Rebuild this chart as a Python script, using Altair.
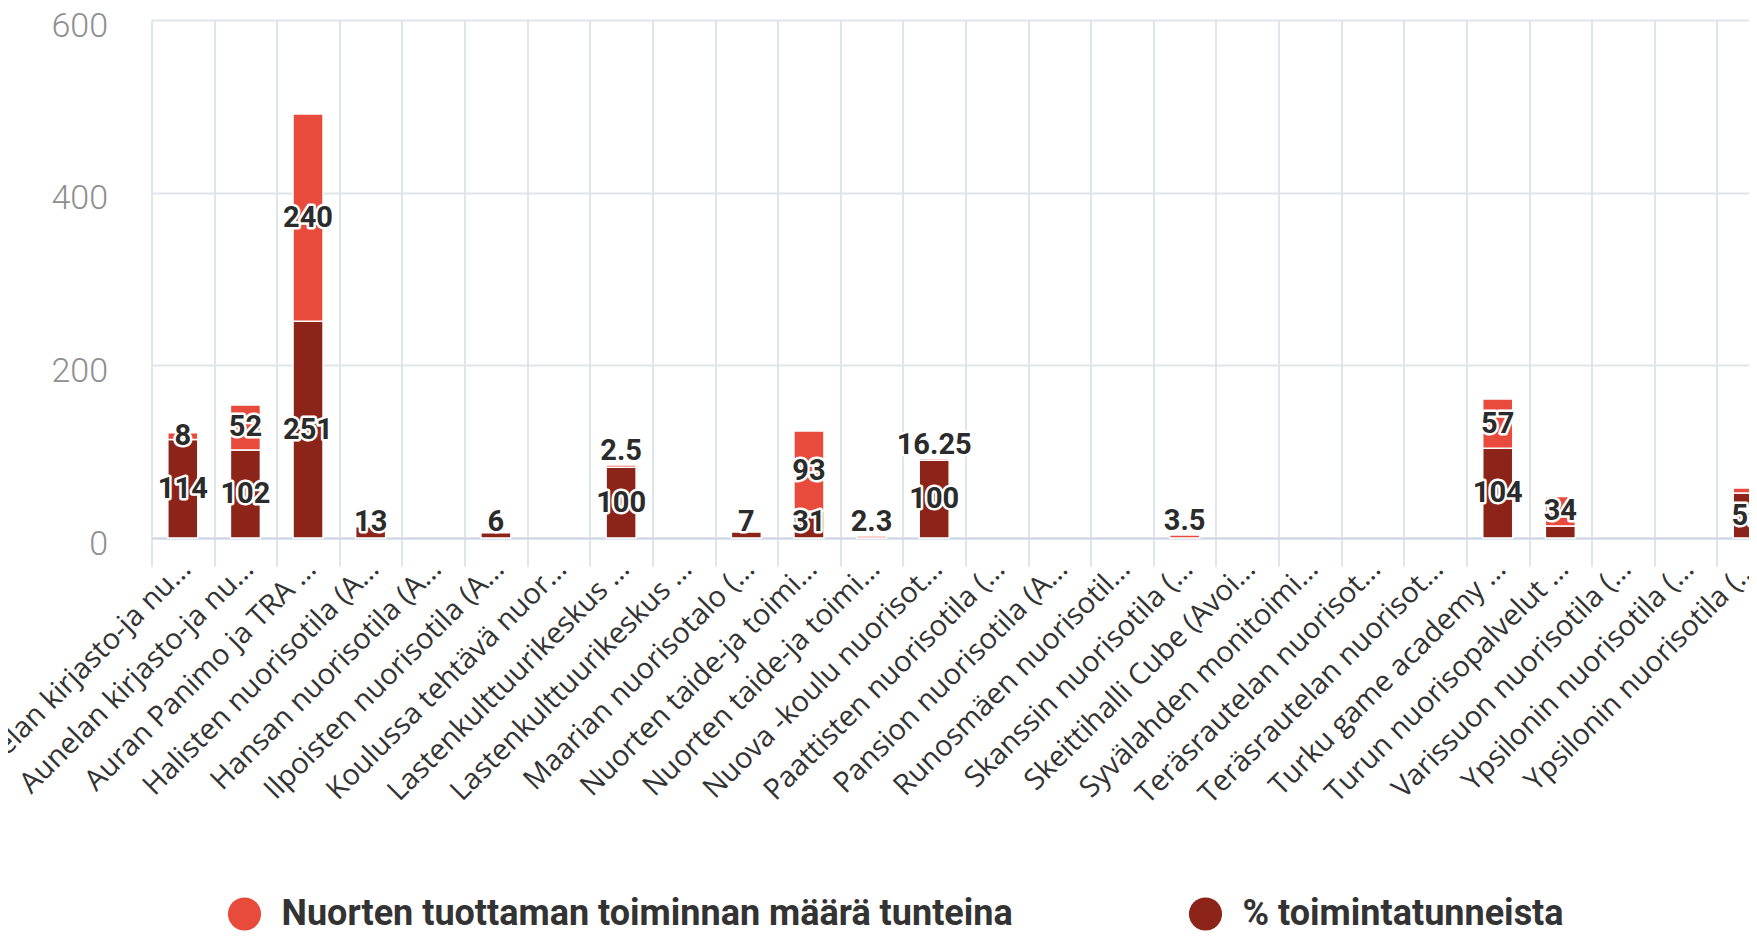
import json
import altair as alt
import pandas as pd

# ---- data ----
categories = [
    "Aunelan kirjasto-ja nu…",
    "Aunelan kirjasto-ja nu…",
    "Auran Panimo ja TRA …",
    "Halisten nuorisotila (A…",
    "Hansan nuorisotila (A…",
    "Ilpoisten nuorisotila (A…",
    "Koulussa tehtävä nuor…",
    "Lastenkulttuurikeskus …",
    "Lastenkulttuurikeskus …",
    "Maarian nuorisotalo (…",
    "Nuorten taide-ja toimi…",
    "Nuorten taide-ja toimi…",
    "Nuova -koulu nuorisot…",
    "Paattisten nuorisotila (…",
    "Pansion nuorisotila (A…",
    "Runosmäen nuorisotil…",
    "Skanssin nuorisotila (…",
    "Skeittihalli Cube (Avoi…",
    "Syvälahden monitoimi…",
    "Teräsrautelan nuorisot…",
    "Teräsrautelan nuorisot…",
    "Turku game academy …",
    "Turun nuorisopalvelut …",
    "Varissuon nuorisotila (…",
    "Ypsilonin nuorisotila (…",
    "Ypsilonin nuorisotila (…",
]

LIGHT = "Nuorten tuottaman toiminnan määrä tunteina"
DARK = "% toimintatunneista"

# bar heights (as drawn)
dark_values = [114, 102, 251, 13, 0, 6, 0, 82, 0, 7, 31, 0, 90, 0, 0, 0, 0, 0, 0, 0, 0, 104, 14, 0, 0, 52]
light_values = [8, 52, 240, 0, 0, 0, 0, 2.5, 0, 0, 93, 2.3, 2, 0, 0, 0, 3.5, 0, 0, 0, 0, 57, 34, 0, 0, 6]
# data labels (as printed)
dark_labels = ["114", "102", "251", "13", "", "6", "", "100", "", "7", "31", "", "100", "", "", "", "", "", "", "", "", "104", "", "", "", "52"]
light_labels = ["8", "52", "240", "", "", "", "", "2.5", "", "", "93", "2.3", "16.25", "", "", "", "3.5", "", "", "", "", "57", "34", "", "", ""]

rows = []
for i in range(len(categories)):
    rows.append(dict(idx=i, series=DARK, ord=0, value=dark_values[i], label=dark_labels[i]))
    rows.append(dict(idx=i, series=LIGHT, ord=1, value=light_values[i], label=light_labels[i]))
df = pd.DataFrame(rows)

C_LIGHT = "#E84B3C"
C_DARK = "#8C2419"
GRID = "#e0e5eb"
FONT = "Roboto"

label_expr = json.dumps(categories, ensure_ascii=False) + "[datum.value]"
idx_domain = list(range(len(categories)))

x_enc = alt.X(
    "idx:O",
    scale=alt.Scale(domain=idx_domain, range=[0, 1628], paddingInner=0, paddingOuter=0),
    axis=alt.Axis(
        title=None,
        values=idx_domain,
        labelExpr=label_expr,
        labelAngle=-45,
        labelFont="Open Sans",
        labelFontSize=29,
        labelColor="#333333",
        labelLimit=1000,
        labelOverlap=False,
        labelPadding=-12,
        labelOffset=-7,
        tickBand="extent",
        grid=True,
        gridColor=GRID,
        gridWidth=2,
        ticks=True,
        tickSize=28,
        tickColor=GRID,
        tickWidth=2,
        domain=True,
        domainColor="#cdd5e3",
        domainWidth=2,
    ),
)

y_axis = alt.Axis(
    title=None,
    values=[0, 200, 400, 600],
    labelFont=FONT,
    labelFontSize=34,
    labelFontWeight=300,
    labelColor="#8f8f8f",
    labelPadding=44,
    labelOffset=6,
    grid=True,
    gridColor=GRID,
    gridWidth=2,
    ticks=False,
    domain=False,
)
y_scale = alt.Scale(domain=[0, 600], nice=False)

base = alt.Chart(df).transform_stack(
    stack="value",
    groupby=["idx"],
    as_=["y0", "y1"],
    sort=[alt.SortField("ord", order="ascending")],
)

bars = base.transform_filter("datum.value > 0").mark_bar(
    width=30, stroke="white", strokeWidth=1.5
).encode(
    x=x_enc,
    y=alt.Y("y0:Q", scale=y_scale, axis=y_axis),
    y2="y1:Q",
    color=alt.Color(
        "series:N",
        scale=alt.Scale(domain=[LIGHT, DARK], range=[C_LIGHT, C_DARK]),
        legend=alt.Legend(
            title=None,
            orient="none",
            direction="horizontal",
            legendX=75,
            legendY=876,
            symbolType="circle",
            symbolSize=1100,
            symbolStrokeWidth=0,
            symbolOpacity=1,
            labelFont=FONT,
            labelFontSize=36,
            labelFontWeight="bold",
            labelColor="#333333",
            labelOffset=19,
            labelLimit=1000,
            columnPadding=174,
            padding=0,
        ),
    ),
)

texts = base.transform_filter("datum.label != ''").transform_calculate(
    pos="max(datum.y1 - datum.y0 >= 6 ? (datum.y0 + datum.y1) / 2 : datum.y1 + 16, 19)"
)

halo = texts.mark_text(
    font=FONT, fontSize=29, fontWeight="bold",
    stroke="white", strokeWidth=5, strokeJoin="round", fill="white",
).encode(x=x_enc, y=alt.Y("pos:Q", scale=y_scale, axis=y_axis), text="label:N")

labels = texts.mark_text(
    font=FONT, fontSize=29, fontWeight="bold", fill="#2b2b2b",
).encode(x=x_enc, y=alt.Y("pos:Q", scale=y_scale, axis=y_axis), text="label:N")

chart = alt.layer(bars, halo, labels).properties(
    width=1597.5,
    height=518,
    autosize=alt.AutoSizeParams(type="none"),
    padding={"left": 143.5, "top": 12, "right": 0, "bottom": 394},
    background="white",
).configure_view(stroke=None)

chart.save("out.html", embed_options={"renderer": "svg", "actions": False})
